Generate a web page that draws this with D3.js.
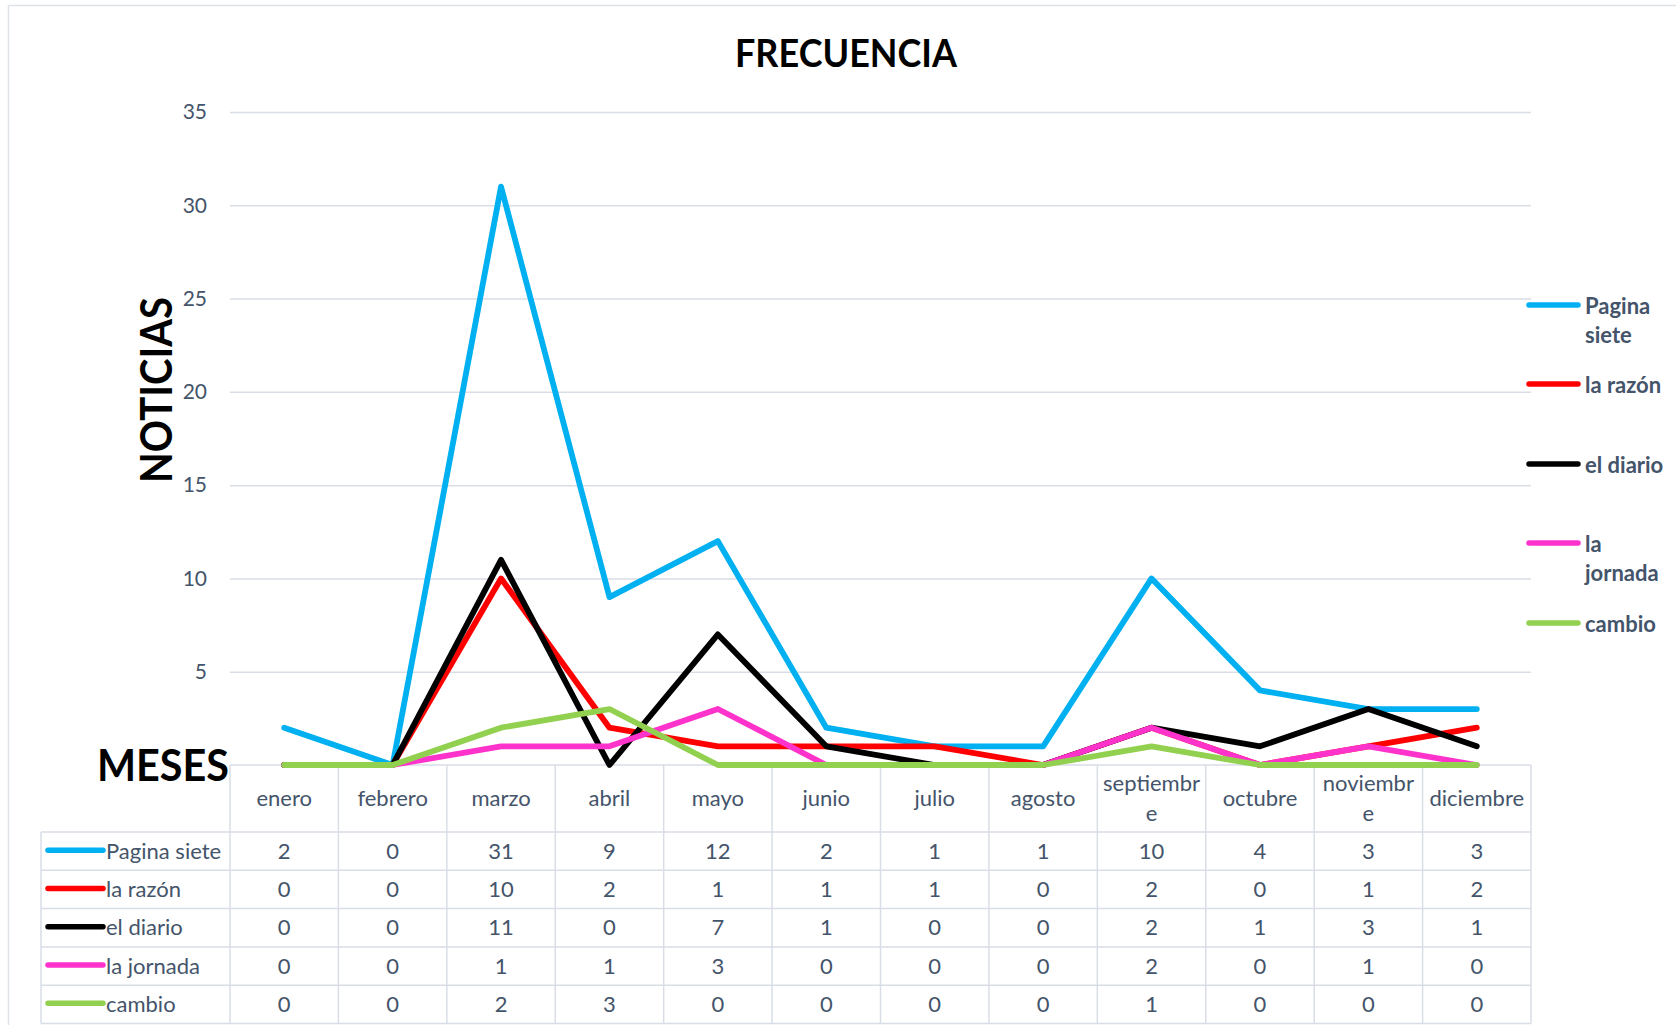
<!DOCTYPE html>
<html>
<head>
<meta charset="utf-8">
<script src="https://cdn.jsdelivr.net/npm/d3@7"></script>
<style>
  body { margin: 0; background: white; }
  text { font-family: Lato, "Open Sans", sans-serif; }
</style>
</head>
<body>
<svg width="1676" height="1025"></svg>
<script>
const svg = d3.select('svg');
svg.style('background-color', 'white');

// data
const months = ['enero', 'febrero', 'marzo', 'abril', 'mayo', 'junio', 'julio', 'agosto', 'septiembre', 'octubre', 'noviembre', 'diciembre'];
const monthLabels = [['enero'], ['febrero'], ['marzo'], ['abril'], ['mayo'], ['junio'], ['julio'], ['agosto'], ['septiembr', 'e'], ['octubre'], ['noviembr', 'e'], ['diciembre']];
const seriesNames = ['Pagina siete', 'la razón', 'el diario', 'la jornada', 'cambio'];
const legendLabels = [['Pagina', 'siete'], ['la razón'], ['el diario'], ['la', 'jornada'], ['cambio']];
const paginaSiete = [2, 0, 31, 9, 12, 2, 1, 1, 10, 4, 3, 3];
const laRazon = [0, 0, 10, 2, 1, 1, 1, 0, 2, 0, 1, 2];
const elDiario = [0, 0, 11, 0, 7, 1, 0, 0, 2, 1, 3, 1];
const laJornada = [0, 0, 1, 1, 3, 0, 0, 0, 2, 0, 1, 0];
const cambio = [0, 0, 2, 3, 0, 0, 0, 0, 1, 0, 0, 0];
const yTicks = [5, 10, 15, 20, 25, 30, 35];

const seriesValues = [paginaSiete, laRazon, elDiario, laJornada, cambio];
const colors = ['#00b0f0', '#ff0000', '#000000', '#ff33cc', '#92d050'];
const textColor = '#44546a';
const lineColor = '#d9dee6';

const plotLeft = 230, plotRight = 1531, plotTop = 112, plotBottom = 765;
const tableLeft = 41, headerBottom = 832, rowH = 38.3;

const x = d3.scaleBand().domain(months).range([plotLeft, plotRight]);
const y = d3.scaleLinear().domain([0, 35]).range([plotBottom, plotTop]);
const cx = m => x(m) + x.bandwidth() / 2;

// chart frame
svg.append('rect')
  .attr('x', 8.5).attr('y', 5.5)
  .attr('width', 1720).attr('height', 1100)
  .attr('fill', 'none')
  .attr('stroke', '#dfe3e8')
  .attr('stroke-width', 1.5);

// gridlines + y tick labels
const yAxis = svg.append('g')
  .attr('transform', `translate(${plotLeft},0)`)
  .call(d3.axisLeft(y)
    .tickValues(yTicks)
    .tickSize(-(plotRight - plotLeft))
    .tickPadding(23));
yAxis.select('.domain').remove();
yAxis.selectAll('line').attr('stroke', lineColor).attr('stroke-width', 1.5);
yAxis.selectAll('text')
  .attr('fill', textColor)
  .style('font-family', 'Lato, sans-serif')
  .style('font-size', '21px');

// data table
const table = svg.append('g').attr('class', 'table');
table.append('line')
  .attr('x1', plotLeft).attr('x2', plotRight)
  .attr('y1', plotBottom).attr('y2', plotBottom)
  .attr('stroke', lineColor).attr('stroke-width', 1.5);
d3.range(seriesNames.length + 1).forEach(i => {
  const yy = headerBottom + i * rowH;
  table.append('line')
    .attr('x1', tableLeft).attr('x2', plotRight)
    .attr('y1', yy).attr('y2', yy)
    .attr('stroke', lineColor).attr('stroke-width', 1.5);
});
const tableBottom = headerBottom + seriesNames.length * rowH;
table.append('line')
  .attr('x1', tableLeft).attr('x2', tableLeft)
  .attr('y1', headerBottom).attr('y2', tableBottom)
  .attr('stroke', lineColor).attr('stroke-width', 1.5);
months.concat([null]).forEach((m, i) => {
  const xx = m ? x(m) : plotRight;
  table.append('line')
    .attr('x1', xx).attr('x2', xx)
    .attr('y1', plotBottom).attr('y2', tableBottom)
    .attr('stroke', lineColor).attr('stroke-width', 1.5);
});

// header labels
months.forEach((m, i) => {
  const lines = monthLabels[i];
  const mid = (plotBottom + headerBottom) / 2 - 1;
  lines.forEach((l, j) => {
    table.append('text')
      .attr('x', cx(m))
      .attr('y', mid + (j - (lines.length - 1) / 2) * 30)
      .attr('text-anchor', 'middle')
      .attr('dominant-baseline', 'central')
      .attr('fill', textColor)
      .style('font-size', '22px')
      .text(l);
  });
});

// rows
seriesNames.forEach((name, s) => {
  const rowMid = headerBottom + s * rowH + rowH / 2 - 1;
  table.append('line')
    .attr('x1', 48).attr('x2', 103)
    .attr('y1', rowMid).attr('y2', rowMid)
    .attr('stroke', colors[s]).attr('stroke-width', 5.5)
    .attr('stroke-linecap', 'round');
  table.append('text')
    .attr('x', 106).attr('y', rowMid)
    .attr('dominant-baseline', 'central')
    .attr('fill', textColor)
    .style('font-size', '22px')
    .text(name);
  months.forEach((m, i) => {
    table.append('text')
      .attr('x', cx(m)).attr('y', rowMid)
      .attr('text-anchor', 'middle')
      .attr('dominant-baseline', 'central')
      .attr('fill', textColor)
      .style('font-size', '22px')
      .text(seriesValues[s][i]);
  });
});

// lines
const line = d3.line()
  .x((d, i) => cx(months[i]))
  .y(d => y(d));
svg.append('g').selectAll('path')
  .data(seriesValues)
  .enter().append('path')
    .attr('d', line)
    .attr('fill', 'none')
    .attr('stroke', (d, i) => colors[i])
    .attr('stroke-width', 5.8)
    .attr('stroke-linecap', 'round')
    .attr('stroke-linejoin', 'round');

// right legend
const legendY = [305, 384, 464, 543, 623];
const legend = svg.append('g');
seriesNames.forEach((name, s) => {
  legend.append('line')
    .attr('x1', 1529).attr('x2', 1578)
    .attr('y1', legendY[s]).attr('y2', legendY[s])
    .attr('stroke', colors[s]).attr('stroke-width', 5.5)
    .attr('stroke-linecap', 'round');
  legendLabels[s].forEach((l, j) => {
    legend.append('text')
      .attr('x', 1585).attr('y', legendY[s] + j * 29)
      .attr('dominant-baseline', 'central')
      .attr('fill', textColor)
      .style('font-size', '22px')
      .style('font-weight', 'bold')
      .text(l);
  });
});

// titles
svg.append('text')
  .attr('x', 846).attr('y', 67)
  .attr('text-anchor', 'middle')
  .attr('textLength', 222).attr('lengthAdjust', 'spacingAndGlyphs')
  .style('font-size', '38px').style('font-weight', 'bold')
  .attr('fill', '#000')
  .text('FRECUENCIA');

svg.append('text')
  .attr('x', 97).attr('y', 781)
  .attr('textLength', 132).attr('lengthAdjust', 'spacingAndGlyphs')
  .style('font-size', '43px').style('font-weight', 'bold')
  .attr('fill', '#000')
  .text('MESES');

svg.append('text')
  .attr('transform', 'translate(172,390) rotate(-90)')
  .attr('text-anchor', 'middle')
  .attr('textLength', 186).attr('lengthAdjust', 'spacingAndGlyphs')
  .style('font-size', '43px').style('font-weight', 'bold')
  .attr('fill', '#000')
  .text('NOTICIAS');
</script>
</body>
</html>
